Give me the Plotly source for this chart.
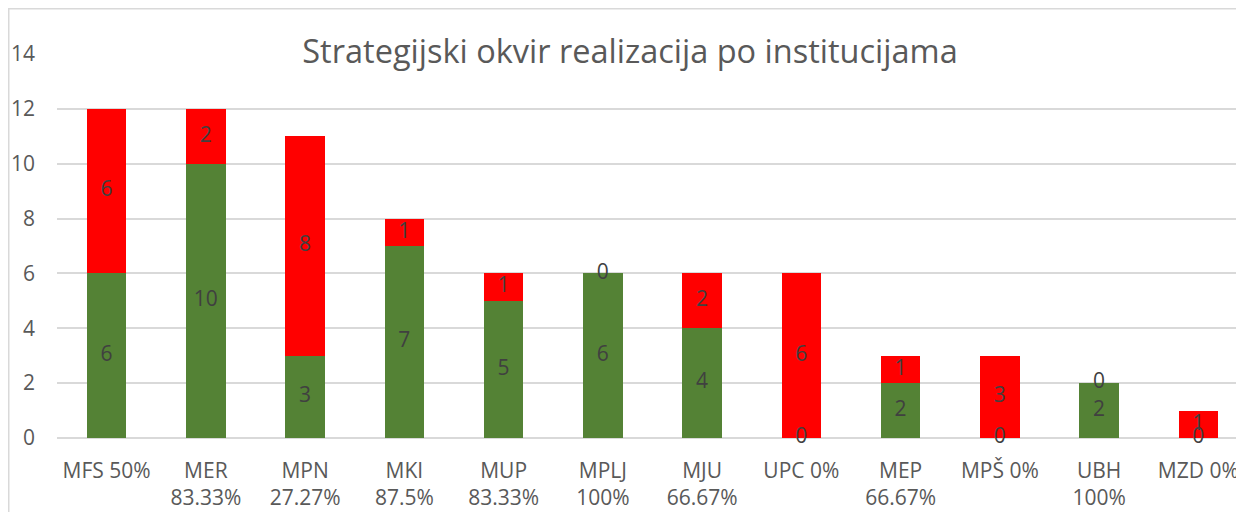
import plotly.graph_objects as go

categories = ["MFS 50%", "MER<br>83.33%", "MPN<br>27.27%", "MKI<br>87.5%", "MUP<br>83.33%",
              "MPLJ<br>100%", "MJU<br>66.67%", "UPC 0%", "MEP<br>66.67%", "MPŠ 0%",
              "UBH<br>100%", "MZD 0%"]
realized = [6, 10, 3, 7, 5, 6, 4, 0, 2, 0, 2, 0]
not_realized = [6, 2, 8, 1, 1, 0, 2, 6, 1, 3, 0, 1]
y_ticks = [0, 2, 4, 6, 8, 10, 12, 14]
title_text = "Strategijski okvir realizacija po institucijama"

GREEN = "#548235"
RED = "#FF0000"
FONT = "Open Sans"
TXT = "#595959"
LBL = "#404040"

OFF = 8  # default page body margin
W, H = 1244 - OFF, 512 - OFF
ML, MR, MT = 57 - OFF, 0, 54 - OFF
MB = H - (438 - OFF)

fig = go.Figure()
fig.add_trace(go.Bar(x=categories, y=realized, marker=dict(color=GREEN, line=dict(width=0)),
                     name="Realizovano", hoverinfo="skip"))
fig.add_trace(go.Bar(x=categories, y=not_realized, marker=dict(color=RED, line=dict(width=0)),
                     name="Nije realizovano", hoverinfo="skip"))

# data labels centred in each segment (zeros included, like the original)
green_mid = [g / 2 for g in realized]
red_mid = [g + r / 2 for g, r in zip(realized, not_realized)]
fig.add_trace(go.Scatter(x=categories, y=green_mid, mode="text",
                         text=[str(v) for v in realized],
                         textfont=dict(family=FONT, size=21, color=LBL),
                         hoverinfo="skip", showlegend=False, cliponaxis=False))
fig.add_trace(go.Scatter(x=categories, y=red_mid, mode="text",
                         text=[str(v) for v in not_realized],
                         textfont=dict(family=FONT, size=21, color=LBL),
                         hoverinfo="skip", showlegend=False, cliponaxis=False))

pw = W - ML - MR
ph = H - MT - MB
# chart-area border (light grey), partly cut off at right/bottom as in the reference
fig.add_shape(type="rect", xref="paper", yref="paper",
              x0=(0.75 - ML) / pw, x1=(W + 10 - ML) / pw,
              y0=-(MB + 10) / ph, y1=(ph + MT - 0.75) / ph,
              line=dict(color="#d9d9d9", width=1.5), fillcolor="rgba(0,0,0,0)", layer="below")

fig.update_layout(
    width=W, height=H,
    margin=dict(l=ML, r=MR, t=MT, b=MB, pad=0, autoexpand=False),
    barmode="stack", bargap=0.6,
    showlegend=False,
    plot_bgcolor="white", paper_bgcolor="white",
    font=dict(family=FONT, size=21, color=TXT),
    title=dict(text=title_text, x=(630 - OFF) / W, xref="container", xanchor="center",
               y=1 - (52 - OFF) / H, yref="container", yanchor="middle",
               font=dict(family=FONT, size=32.5, color=TXT)),
    xaxis=dict(range=[-0.5, 11.46], showgrid=False, showline=False, zeroline=False, ticks="",
               automargin=False,
               tickfont=dict(family=FONT, size=21, color=TXT), ticklabelstandoff=18,
               fixedrange=True),
    yaxis=dict(range=[0, 14], tickvals=y_ticks, showgrid=True, gridcolor="#d9d9d9", gridwidth=1.5,
               zeroline=True, zerolinecolor="#d9d9d9", zerolinewidth=1.5, automargin=False,
               showline=False, ticks="", tickfont=dict(family=FONT, size=21, color=TXT),
               ticklabelstandoff=21, fixedrange=True),
)

fig.write_html("out.html")
